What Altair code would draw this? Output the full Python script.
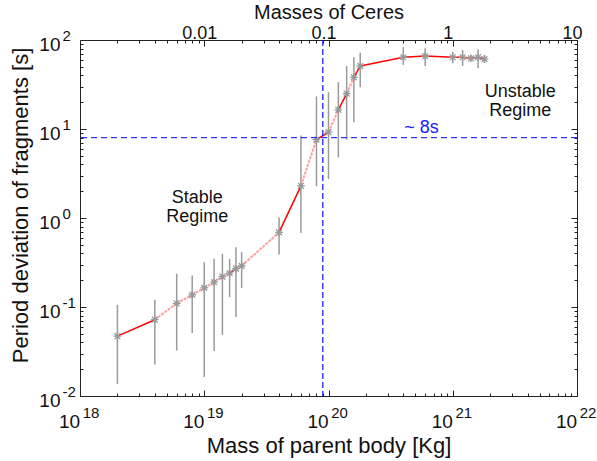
import altair as alt
import pandas as pd

# ---------------- data ----------------
mass_kg = [2e18, 4e18, 6e18, 8e18, 1e19, 1.2e19, 1.4e19, 1.6e19, 1.8e19, 2e19,
           4e19, 6e19, 8e19, 1e20, 1.2e20, 1.4e20, 1.6e20, 1.8e20,
           4e20, 6e20, 1e21, 1.2e21, 1.4e21, 1.6e21, 1.8e21]
period_dev = [0.047, 0.072, 0.11, 0.137, 0.164, 0.19, 0.22, 0.24, 0.27, 0.29,
              0.69, 2.3, 7.6, 9.2, 16.4, 25.0, 38.0, 51.0,
              64.0, 66.0, 64.0, 64.0, 62.0, 64.0, 61.0]
err_low = [0.0137, 0.0226, 0.0324, 0.051, 0.0163, 0.032, 0.0486, 0.129, 0.077, 0.164,
           0.389, 0.68, 2.27, 2.75, 4.8, 7.6, 11.9, 29.5,
           52.4, 51.1, 54.7, 51.1, 58.5, 48.1, 55.6]
err_high = [0.106, 0.121, 0.236, 0.226, 0.319, 0.348, 0.395, 0.347, 0.47, 0.413,
            1.02, 8.45, 23.2, 25.9, 33.6, 50.8, 64.0, 71.7,
            82.8, 80.7, 73.9, 77.2, 67.8, 78.7, 67.8]
# kind of each connecting segment (between point i and i+1)
segment_kind = ["solid", "faint", "faint", "faint", "faint", "faint", "faint", "solid",
                "faint", "faint", "solid", "faint", "solid", "faint", "solid", "faint",
                "solid", "solid", "solid", "solid", "solid", "solid", "solid", "solid"]

threshold_period = [8.0]
threshold_mass = [9.0e19]

x_decades = [1e18, 1e19, 1e20, 1e21, 1e22]
y_decades = [1e-2, 1e-1, 1e0, 1e1, 1e2]
ceres_ticks = [1e19, 1e20, 1e21, 1e22]
ceres_labels = ["0.01", "0.1", "1", "10"]
x_minor = [m * 10.0 ** k for k in range(18, 22) for m in range(2, 10)]
y_minor = [m * 10.0 ** k for k in range(-2, 2) for m in range(2, 10)]

notes_black = pd.DataFrame({
    "ax": [8.8e18, 3.5e21],
    "ay": [1.49, 22.9],
    "label": ["Stable\nRegime", "Unstable\nRegime"],
})
notes_blue = pd.DataFrame({"ax": [5.6e20], "ay": [9.0], "label": ["~ 8s"]})

# ---------------- tables ----------------
pts = pd.DataFrame({"mass": mass_kg, "period": period_dev, "low": err_low, "high": err_high})
segs = pd.DataFrame({
    "x1": mass_kg[:-1], "x2": mass_kg[1:],
    "y1": period_dev[:-1], "y2": period_dev[1:],
    "kind": segment_kind,
})
segs_solid = segs[segs.kind == "solid"]
segs_faint = segs[segs.kind == "faint"]

FONT = "Liberation Sans"
TICK = "#222222"
xs = alt.Scale(type="log", domain=[1e18, 1e22], nice=False)
ys = alt.Scale(type="log", domain=[1e-2, 1e2], nice=False)

common = dict(grid=False, domain=False, labelFlush=False, labelOverlap=False,
              tickColor=TICK, tickWidth=1, labelFont=FONT, titleFont=FONT,
              labelColor="#111111", titleColor="#111111", titleFontWeight="normal")

exp_expr = "'' + round(log(datum.value) / LN10)"
ceres_expr = "[" + ",".join("'%s'" % s for s in ceres_labels) + "][round(log(datum.value) / LN10) - 19]"

ax_bottom_major = alt.Axis(orient="bottom", values=x_decades, offset=-6, tickSize=6,
                           labelExpr="'10'", labelFontSize=19, labelPadding=31,
                           labelBaseline="alphabetic", labelAlign="center", labelOffset=-11,
                           title="Mass of parent body [Kg]", titleFontSize=22,
                           titleX=248.5, titleY=62, titleAlign="center",
                           titleBaseline="alphabetic", **common)
ax_bottom_minor = alt.Axis(orient="bottom", values=x_minor, offset=-3, tickSize=3,
                           labels=False, title=None, **common)
ax_bottom_exp = alt.Axis(orient="bottom", values=x_decades, ticks=False, tickSize=0,
                         labelExpr=exp_expr, labelFontSize=15, labelPadding=21,
                         labelBaseline="alphabetic", labelAlign="center", labelOffset=10.5,
                         title=None, **common)
ax_top_major = alt.Axis(orient="top", values=ceres_ticks, offset=-6, tickSize=6,
                        labelExpr=ceres_expr, labelFontSize=18, labelPadding=1.5,
                        labelBaseline="alphabetic", labelAlign="center", labelOffset=-5,
                        title="Masses of Ceres", titleFontSize=20, titleX=248.5, titleY=-28,
                        titleAlign="center", titleBaseline="alphabetic", **common)
ax_top_minor = alt.Axis(orient="top", values=x_minor, offset=-3, tickSize=3,
                        labels=False, title=None, **common)

ay_left_major = alt.Axis(orient="left", values=y_decades, offset=-6, tickSize=6,
                         labelExpr="'10'", labelFontSize=19, labelPadding=20,
                         labelAlign="right", labelBaseline="alphabetic", labelOffset=10,
                         title="Period deviation of fragments [s]", titleFontSize=22,
                         titleAngle=270, titleX=-59, titleY=165, titleAlign="center",
                         titleBaseline="alphabetic", **common)
ay_left_minor = alt.Axis(orient="left", values=y_minor, offset=-3, tickSize=3,
                         labels=False, title=None, **common)
ay_left_exp = alt.Axis(orient="left", values=y_decades, ticks=False, tickSize=0,
                       labelExpr=exp_expr, labelFontSize=15, labelPadding=18,
                       labelAlign="left", labelBaseline="alphabetic", labelOffset=0.5,
                       title=None, **common)
ay_right_major = alt.Axis(orient="right", values=y_decades, offset=-6, tickSize=6,
                          labels=False, title=None, **common)
ay_right_minor = alt.Axis(orient="right", values=y_minor, offset=-3, tickSize=3,
                          labels=False, title=None, **common)

asterisk = "M-1,0L1,0M0,-1L0,1M-0.75,-0.75L0.75,0.75M-0.75,0.75L0.75,-0.75"

errbars = alt.Chart(pts).mark_rule(color="#9a9a9a", strokeWidth=1.5).encode(
    x=alt.X("mass:Q", scale=xs, axis=ax_bottom_major),
    y=alt.Y("low:Q", scale=ys, axis=ay_left_major),
    y2="high:Q",
)
faint = alt.Chart(segs_faint).mark_rule(color="#ffa0a0", strokeWidth=2, strokeDash=[3, 1]).encode(
    x=alt.X("x1:Q", scale=xs, axis=ax_bottom_minor),
    x2="x2:Q",
    y=alt.Y("y1:Q", scale=ys, axis=ay_left_minor),
    y2="y2:Q",
)
solid = alt.Chart(segs_solid).mark_rule(color="#ff0000", strokeWidth=1.5).encode(
    x=alt.X("x1:Q", scale=xs, axis=ax_top_major),
    x2="x2:Q",
    y=alt.Y("y1:Q", scale=ys, axis=ay_right_major),
    y2="y2:Q",
)
markers = alt.Chart(pts).mark_point(shape=asterisk, filled=False, color="#999999",
                                    size=60, strokeWidth=1.3, opacity=1).encode(
    x=alt.X("mass:Q", scale=xs, axis=ax_top_minor),
    y=alt.Y("period:Q", scale=ys, axis=ay_right_minor),
)
hline = alt.Chart(pd.DataFrame({"p": threshold_period})).mark_rule(
    color="#3030ff", strokeWidth=1.2, strokeDash=[6, 4]).encode(
    y=alt.Y("p:Q", scale=ys, axis=None),
)
vline = alt.Chart(pd.DataFrame({"m": threshold_mass})).mark_rule(
    color="#1010ff", strokeWidth=1.2, strokeDash=[6, 3]).encode(
    x=alt.X("m:Q", scale=xs, axis=None),
)
text_black = alt.Chart(notes_black).mark_text(font=FONT, fontSize=18, align="center",
                                              baseline="alphabetic", lineBreak="\n",
                                              lineHeight=19, color="#111111").encode(
    x=alt.X("ax:Q", scale=xs, axis=ax_bottom_exp),
    y=alt.Y("ay:Q", scale=ys, axis=ay_left_exp),
    text="label:N",
)
text_blue = alt.Chart(notes_blue).mark_text(font=FONT, fontSize=18, align="center",
                                            baseline="alphabetic", color="#1a1aff").encode(
    x=alt.X("ax:Q", scale=xs, axis=None),
    y=alt.Y("ay:Q", scale=ys, axis=None),
    text="label:N",
)

chart = alt.layer(
    errbars, faint, solid, markers, hline, vline, text_black, text_blue
).resolve_axis(
    x="independent", y="independent"
).properties(
    width=497, height=356,
    autosize=alt.AutoSizeParams(type="none"),
    padding={"left": 80, "top": 40, "right": 20, "bottom": 65},
).configure(
    font=FONT
).configure_view(
    stroke="#222222", strokeWidth=1
)

chart.save("out.html", embed_options={"renderer": "svg", "actions": False})
